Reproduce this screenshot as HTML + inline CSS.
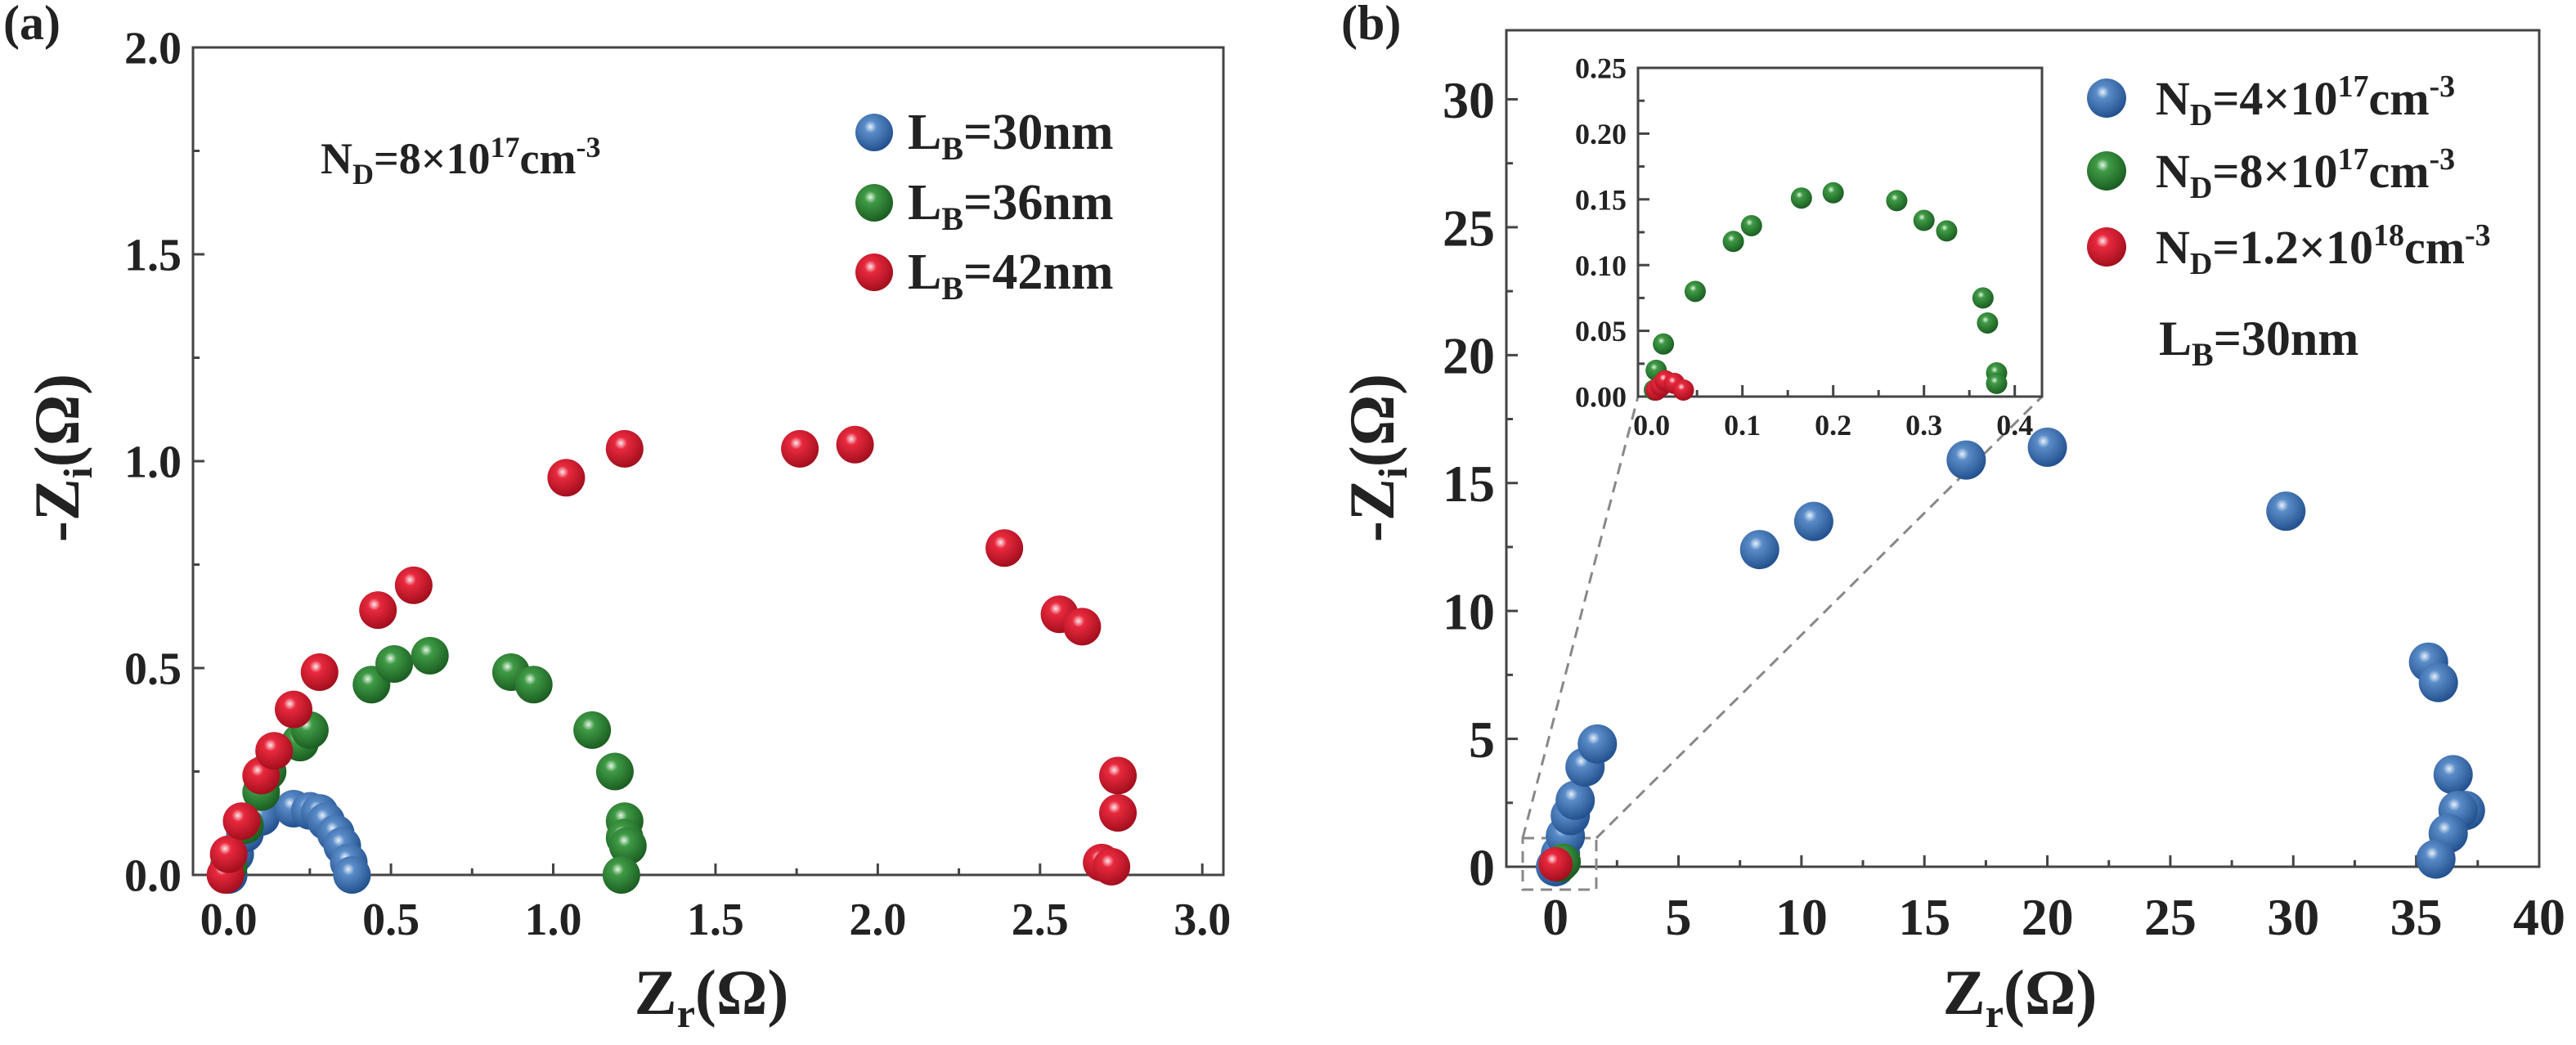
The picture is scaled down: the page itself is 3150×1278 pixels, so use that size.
<!DOCTYPE html>
<html><head><meta charset="utf-8"><style>
html,body{margin:0;padding:0;background:#fff;}
svg text{font-family:"Liberation Serif",serif;font-weight:bold;fill:#222;}
</style></head><body>
<svg id="fig" width="3150" height="1273" viewBox="0 0 3150 1273" xmlns="http://www.w3.org/2000/svg">
<defs>
<radialGradient id="gb" cx="0.4" cy="0.35" r="0.65"><stop offset="0" stop-color="#e8f0fa"/><stop offset="0.25" stop-color="#5a8cc8"/><stop offset="1" stop-color="#23518f"/></radialGradient>
<radialGradient id="gg" cx="0.4" cy="0.35" r="0.65"><stop offset="0" stop-color="#e6f5e6"/><stop offset="0.25" stop-color="#3f9a45"/><stop offset="1" stop-color="#1b5e22"/></radialGradient>
<radialGradient id="gr" cx="0.4" cy="0.35" r="0.65"><stop offset="0" stop-color="#fde8ec"/><stop offset="0.25" stop-color="#e8293d"/><stop offset="1" stop-color="#a30f1e"/></radialGradient>
</defs>
<g id="pa"></g>
<g id="pb"></g>
<g id="pi"></g>
</svg>
<script>
const aBlueX=[0.0,0.02,0.05,0.1,0.2,0.25,0.28,0.3,0.33,0.35,0.37,0.38];
const aBlueY=[0.0,0.05,0.1,0.14,0.16,0.155,0.15,0.13,0.1,0.07,0.03,0.0];
const aGreenX=[0.0,0.05,0.1,0.12,0.22,0.25,0.44,0.51,0.62,0.87,0.94,1.12,1.19,1.22,1.22,1.23,1.21];
const aGreenY=[0.02,0.12,0.2,0.25,0.32,0.35,0.46,0.51,0.53,0.49,0.46,0.35,0.25,0.13,0.09,0.07,0.0];
const aRedX=[-0.01,0.0,0.04,0.1,0.14,0.2,0.28,0.46,0.57,1.04,1.22,1.76,1.93,2.39,2.56,2.63,2.74,2.74,2.69,2.72];
const aRedY=[0.0,0.05,0.13,0.24,0.3,0.4,0.49,0.64,0.7,0.96,1.03,1.03,1.04,0.79,0.63,0.6,0.24,0.15,0.03,0.02];
const aXTicks=[0.0,0.5,1.0,1.5,2.0,2.5,3.0];
const aYTicks=[0.0,0.5,1.0,1.5,2.0];
const bBlueX=[0,0.2,0.4,0.6,0.8,1.2,1.7,8.3,10.5,16.7,20,29.7,35.5,35.9,36.5,37,36.7,36.3,35.8];
const bBlueY=[0,0.5,1.2,2,2.6,3.9,4.8,12.4,13.5,15.9,16.4,13.9,8,7.2,3.6,2.2,2.2,1.3,0.3];
const bGreenX=[0.2,0.3];
const bGreenY=[0.1,0.2];
const bRedX=[0];
const bRedY=[0.1];
const bXTicks=[0,5,10,15,20,25,30,35,40];
const bYTicks=[0,5,10,15,20,25,30];
const iGreenX=[0.003,0.005,0.013,0.048,0.09,0.11,0.165,0.2,0.27,0.3,0.325,0.365,0.37,0.38,0.38];
const iGreenY=[0.005,0.02,0.04,0.08,0.118,0.13,0.151,0.155,0.149,0.134,0.126,0.075,0.056,0.018,0.01];
const iRedX=[0.005,0.01,0.015,0.025,0.035];
const iRedY=[0.005,0.008,0.012,0.01,0.005];
const iXTicks=[0.0,0.1,0.2,0.3,0.4];
const iYTicks=[0.00,0.05,0.10,0.15,0.20,0.25];

const NS="http://www.w3.org/2000/svg";
function mk(p,t,a){const e=document.createElementNS(NS,t);for(const k in a)e.setAttribute(k,a[k]);p.appendChild(e);return e;}
function lin(d0,d1,r0,r1){return v=>r0+(v-d0)/(d1-d0)*(r1-r0);}

function axes(g,L,T,R,B,sx,sy,xt,yt,fs,dec,pre){
  const f=mk(g,'rect',{x:L,y:T,width:R-L,height:B-T,fill:'none',stroke:'#444','stroke-width':3});
  
  
  xt.forEach((v,i)=>{const x=sx(v);
    mk(g,'line',{x1:x,y1:B,x2:x,y2:B-14,stroke:'#444','stroke-width':3});
    if(i<xt.length-1){const xm=sx(v+(xt[1]-xt[0])/2);mk(g,'line',{x1:xm,y1:B,x2:xm,y2:B-8,stroke:'#444','stroke-width':3});}
    const t=mk(g,'text',{x:x,y:B+fs*1.3,'font-size':fs,'text-anchor':'middle'});t.textContent=v.toFixed(dec[0]);
    
    });
  yt.forEach((v,i)=>{const y=sy(v);
    mk(g,'line',{x1:L,y1:y,x2:L+14,y2:y,stroke:'#444','stroke-width':3});
    if(i<yt.length-1){const ym=sy(v+(yt[1]-yt[0])/2);mk(g,'line',{x1:L,y1:ym,x2:L+8,y2:ym,stroke:'#444','stroke-width':3});}
    const t=mk(g,'text',{x:L-14,y:y+fs*0.35,'font-size':fs,'text-anchor':'end'});t.textContent=v.toFixed(dec[1]);
    
    });
}
function pts(g,X,Y,sx,sy,r,grad,name){X.forEach((v,i)=>{const c=mk(g,'circle',{cx:sx(v),cy:sy(Y[i]),r:r,fill:'url(#'+grad+')'});
  
  });}
function txt(g,x,y,fs,html,name,anchor){const t=mk(g,'text',{x:x,y:y,'font-size':fs,'text-anchor':anchor||'start'});t.innerHTML=html;
  
  return t;}

// Panel A
const ga=document.getElementById('pa');
const axL=236,axR=1496,axT=58,axB=1070;
const sxa=lin(-0.11,3.065,axL,axR), sya=lin(0,2,axB,axT);
axes(ga,axL,axT,axR,axB,sxa,sya,aXTicks,aYTicks,56,[1,1],'a-');
pts(ga,aBlueX,aBlueY,sxa,sya,23,'gb','a-point-lb30');
pts(ga,aGreenX,aGreenY,sxa,sya,23,'gg','a-point-lb36');
pts(ga,aRedX,aRedY,sxa,sya,23,'gr','a-point-lb42');
txt(ga,4,48,60,'(a)','panel-a-label');
txt(ga,870,1240,78,'Z<tspan font-size="50" dy="16">r</tspan><tspan dy="-16">(Ω)</tspan>','a-x-axis-title','middle');
const yta=txt(ga,0,0,78,'-Z<tspan font-size="50" dy="16">i</tspan><tspan dy="-16">(Ω)</tspan>','a-y-axis-title','middle');
yta.setAttribute('transform','translate(96,560) rotate(-90)');
txt(ga,392,212,54,'N<tspan font-size="36" dy="13">D</tspan><tspan dy="-13">=8×10</tspan><tspan font-size="36" dy="-20">17</tspan><tspan dy="20">cm</tspan><tspan font-size="36" dy="-20">-3</tspan>','a-annotation-nd');
[['gb','30'],['gg','36'],['gr','42']].forEach((l,i)=>{const y=[162,248,333][i];
  const c=mk(ga,'circle',{cx:1069,cy:y,r:23,fill:'url(#'+l[0]+')'});
  
  
  txt(ga,1110,y+20,62,'L<tspan font-size="40" dy="13">B</tspan><tspan dy="-13">='+l[1]+'nm</tspan>','a-legend-entry');});

// Panel B
const gb=document.getElementById('pb');
const bL=1842,bR=3105,bT=37,bB=1060;
const sxb=lin(-2,40,bL,bR), syb=lin(0,32.7,bB,bT);
axes(gb,bL,bT,bR,bB,sxb,syb,bXTicks,bYTicks,64,[0,0],'b-');
txt(gb,1640,48,60,'(b)','panel-b-label');
txt(gb,2470,1240,78,'Z<tspan font-size="50" dy="16">r</tspan><tspan dy="-16">(Ω)</tspan>','b-x-axis-title','middle');
const ytb=txt(gb,0,0,78,'-Z<tspan font-size="50" dy="16">i</tspan><tspan dy="-16">(Ω)</tspan>','b-y-axis-title','middle');
ytb.setAttribute('transform','translate(1704,560) rotate(-90)');
const zb=mk(gb,'rect',{x:1862,y:1025,width:90,height:63,fill:'none',stroke:'#888','stroke-width':3,'stroke-dasharray':'14,9'});


const d1=mk(gb,'line',{x1:1862,y1:1025,x2:2003,y2:485,stroke:'#888','stroke-width':3,'stroke-dasharray':'14,9'});


const d2=mk(gb,'line',{x1:1952,y1:1025,x2:2497,y2:485,stroke:'#888','stroke-width':3,'stroke-dasharray':'14,9'});


pts(gb,bBlueX,bBlueY,sxb,syb,24,'gb','b-point-nd4e17');
pts(gb,bGreenX,bGreenY,sxb,syb,22,'gg','b-point-nd8e17');
pts(gb,bRedX,bRedY,sxb,syb,21,'gr','b-point-nd12e18');
[['gb','4'],['gg','8'],['gr','1.2']].forEach((l,i)=>{const y=[120,209,302][i];
  const c=mk(gb,'circle',{cx:2576,cy:y,r:24,fill:'url(#'+l[0]+')'});
  
  
  const ex=l[1]==='1.2'?'18':'17';
  txt(gb,2636,y+20,58,'N<tspan font-size="38" dy="13">D</tspan><tspan dy="-13">='+l[1]+'×10</tspan><tspan font-size="38" dy="-22">'+ex+'</tspan><tspan dy="22">cm</tspan><tspan font-size="38" dy="-22">-3</tspan>','b-legend-entry');});
txt(gb,2640,434,60,'L<tspan font-size="40" dy="13">B</tspan><tspan dy="-13">=30nm</tspan>','b-annotation-lb');

// Inset
const gi=document.getElementById('pi');
const iL=2003,iR=2497,iT=83,iB=485;
const sxi=lin(-0.015,0.43,iL,iR), syi=lin(0,0.25,iB,iT);
mk(gi,'rect',{x:iL,y:iT,width:iR-iL,height:iB-iT,fill:'#fff'});
axes(gi,iL,iT,iR,iB,sxi,syi,iXTicks,iYTicks,36,[1,2],'inset-');
pts(gi,iGreenX,iGreenY,sxi,syi,13,'gg','inset-point-green');
pts(gi,iRedX,iRedY,sxi,syi,13,'gr','inset-point-red');
</script>
</body></html>
